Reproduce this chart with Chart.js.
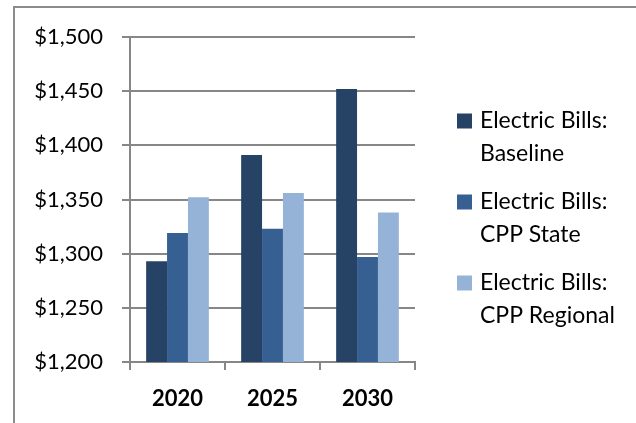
<!DOCTYPE html>
<html>
<head>
<meta charset="utf-8">
<script src="https://cdn.jsdelivr.net/npm/chart.js@4.4.0/dist/chart.umd.min.js"></script>
<style>
  html, body { margin: 0; padding: 0; background: #fff; }
  #wrap { width: 636px; height: 423px; position: relative; }
</style>
</head>
<body>
<div id="wrap"><canvas id="chart"></canvas></div>
<script>
// データ
const years = ['2020', '2025', '2030'];
const baseline = [1293, 1391, 1452];
const cppState = [1319, 1323, 1297];
const cppRegional = [1352, 1356, 1338];
const seriesNames = [
    ['Electric Bills:', 'Baseline'],
    ['Electric Bills:', 'CPP State'],
    ['Electric Bills:', 'CPP Regional']
];
const yTicks = [1200, 1250, 1300, 1350, 1400, 1450, 1500];

const colors = ['#264264', '#376092', '#95b3d7'];
const gridColor = '#878787';
const fontFamily = 'Lato, "Open Sans", sans-serif';

// 外枠（上と左だけ画面内に見える）
const framePlugin = {
    id: 'frame',
    beforeDraw(chart) {
        const ctx = chart.ctx;
        ctx.save();
        ctx.strokeStyle = '#8c8c8c';
        ctx.lineWidth = 2;
        ctx.strokeRect(14, 7, chart.width + 20, chart.height + 20);
        ctx.restore();
    }
};

// 凡例（2行ラベル）
const legendPlugin = {
    id: 'twoLineLegend',
    afterDraw(chart) {
        const ctx = chart.ctx;
        const area = chart.chartArea;
        const x0 = area.right + 42;
        const y0 = area.top + 84;
        const itemGap = 81;
        const lineGap = 33;
        ctx.save();
        ctx.font = '23px ' + fontFamily;
        ctx.textBaseline = 'middle';
        ctx.fillStyle = '#000';
        chart.data.datasets.forEach((ds, i) => {
            const y = y0 + i * itemGap;
            ctx.fillStyle = ds.backgroundColor;
            ctx.fillRect(x0, y - 7.5, 15, 15);
            ctx.fillStyle = '#000';
            ds.label.forEach((line, j) => {
                ctx.fillText(line, x0 + 23, y + j * lineGap);
            });
        });
        ctx.restore();
    }
};

const datasets = [baseline, cppState, cppRegional].map((vals, i) => ({
    label: seriesNames[i],
    data: vals,
    backgroundColor: colors[i],
    borderWidth: 0,
    categoryPercentage: 0.66,
    barPercentage: 1.0
}));

new Chart(document.getElementById('chart'), {
    type: 'bar',
    data: { labels: years, datasets: datasets },
    options: {
        responsive: true,
        maintainAspectRatio: false,
        animation: false,
        layout: { padding: { left: 0, right: 221, top: 37, bottom: 0 } },
        plugins: {
            legend: { display: false },
            tooltip: { enabled: false }
        },
        scales: {
            x: {
                grid: {
                    display: true,
                    drawOnChartArea: false,
                    drawTicks: true,
                    tickLength: 8,
                    color: gridColor,
                    lineWidth: 2
                },
                border: { display: true, color: gridColor, width: 2 },
                ticks: {
                    color: '#000',
                    padding: 16,
                    font: { family: fontFamily, size: 22, weight: 'bold' }
                },
                afterFit(scale) { scale.height = 61; }
            },
            y: {
                min: 1200,
                max: 1500,
                afterBuildTicks(scale) {
                    scale.ticks = yTicks.map(v => ({ value: v }));
                },
                grid: {
                    color: gridColor,
                    lineWidth: 2,
                    tickLength: 8
                },
                border: { display: true, color: gridColor, width: 2 },
                ticks: {
                    color: '#000',
                    padding: 19,
                    font: { family: fontFamily, size: 22 },
                    callback: v => '$' + v.toLocaleString('en-US')
                },
                afterFit(scale) { scale.width = 130; }
            }
        }
    },
    plugins: [framePlugin, legendPlugin]
});
</script>
</body>
</html>
